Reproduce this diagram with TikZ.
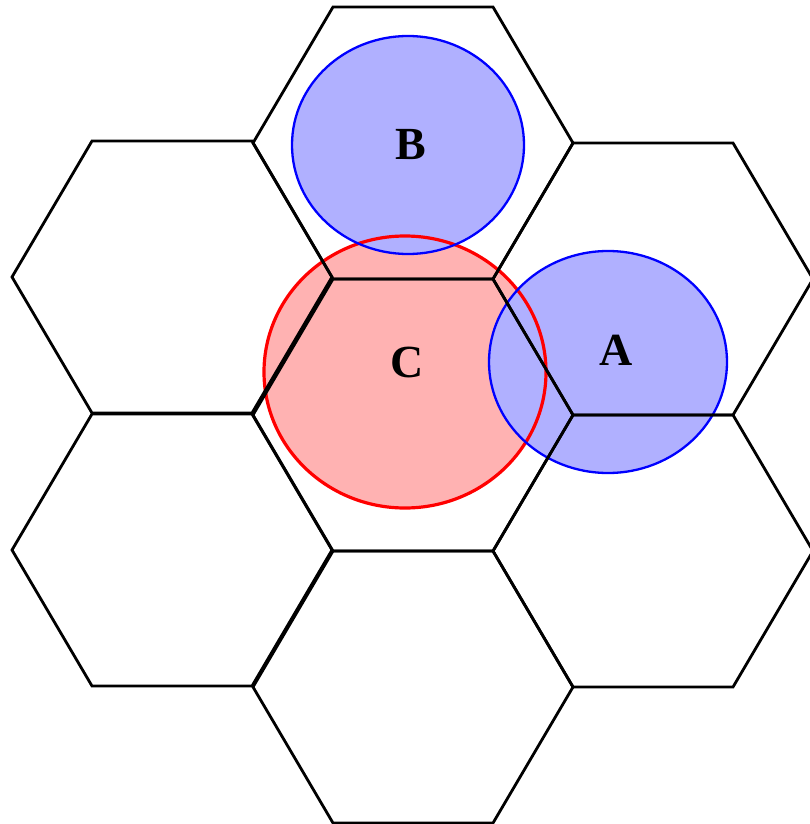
\documentclass[tikz,border=0pt]{standalone}
\usepackage{fontspec}
\setmainfont{Liberation Serif}
\begin{document}
\begin{tikzpicture}[x=1pt, y=-1pt,
	hexline/.style={black, line width=2.8pt, line join=miter},
	bluecell/.style={draw=blue, line width=2.3pt},
	redcell/.style={draw=red, line width=3.2pt},
	celllabel/.style={font=\bfseries\fontsize{46}{46}\selectfont}]

	\useasboundingbox (0,0) rectangle (809,824);

	% --- Coverage fills ---
	\fill[red!30] (405,372) ellipse (141 and 136);
	\fill[blue!31] (608,362) ellipse (119 and 111);
	\fill[blue!31] (408,145) ellipse (116 and 109);

	% --- Coverage outlines ---
	\draw[redcell] (405,372) ellipse (141 and 136);
	\draw[bluecell] (608,362) ellipse (119 and 111);
	\draw[bluecell] (408,145) ellipse (116 and 109);

	% --- Hexagonal cells ---
	\foreach \cx/\cy in {413/415, 413/143, 413/687, 172/277, 172/550, 653/279, 653/551} {
		\draw[hexline] ({\cx-160},\cy) -- ({\cx-80},{\cy-136}) -- ({\cx+80},{\cy-136})
			-- ({\cx+160},\cy) -- ({\cx+80},{\cy+136}) -- ({\cx-80},{\cy+136}) -- cycle;
	}

	% --- Cell labels ---
	\node[celllabel] (labelA) at (616,350) {A};
	\node[celllabel] (labelB) at (411,145) {B};
	\node[celllabel] (labelC) at (407,362) {C};

\end{tikzpicture}
\end{document}
